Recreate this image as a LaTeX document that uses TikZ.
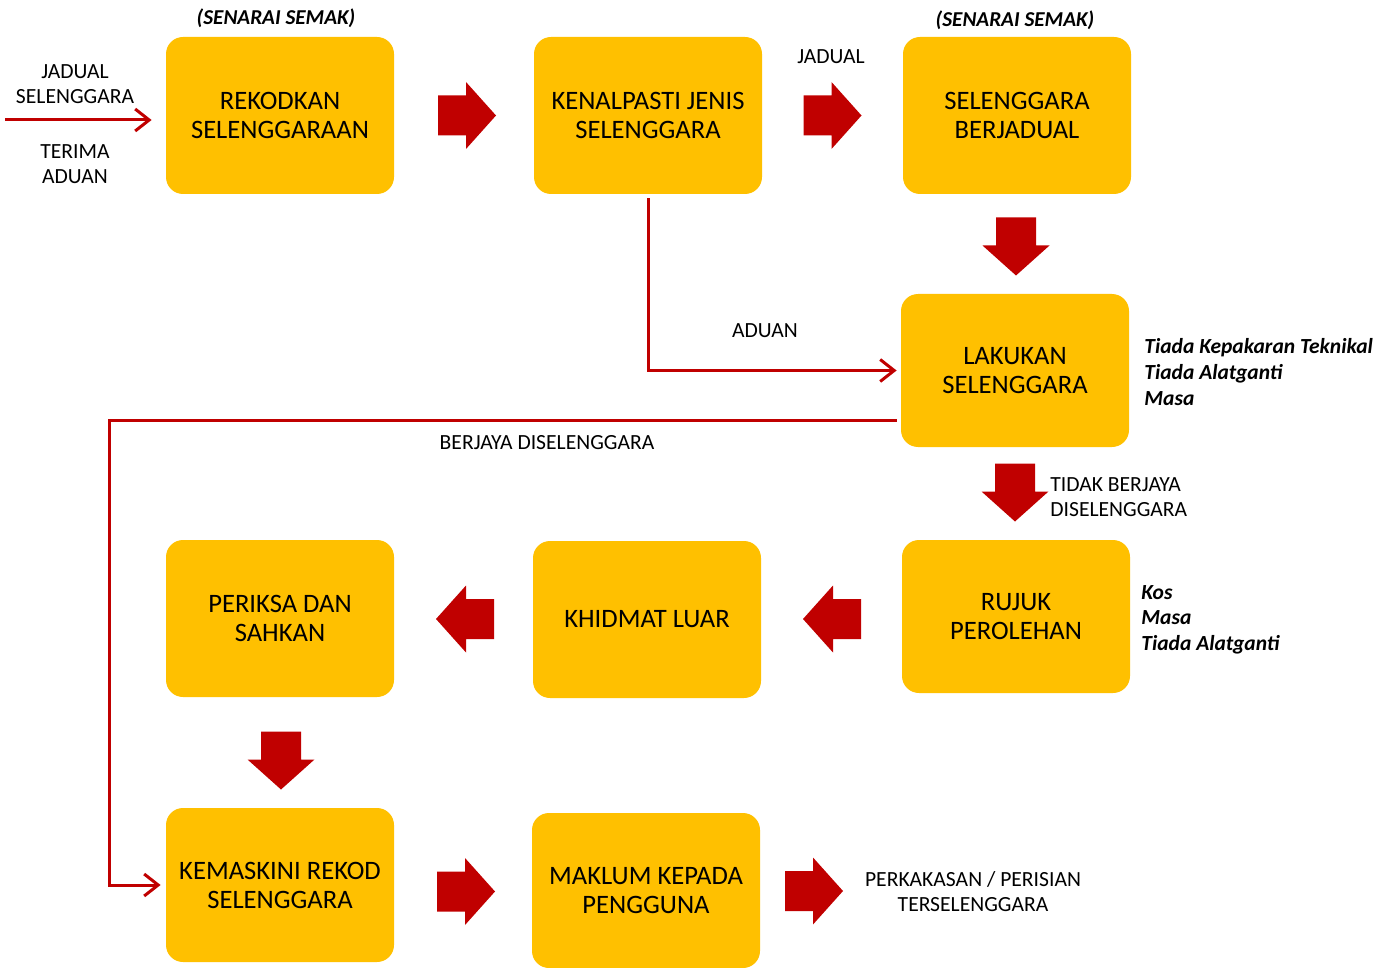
\documentclass[tikz,border=0pt]{standalone}
\usepackage{fontspec}
\setmainfont{Carlito}
\usetikzlibrary{arrows.meta}

\definecolor{boxgold}{HTML}{FFC000}
\definecolor{flowred}{HTML}{C00000}

\tikzset{
  stepbox/.style={fill=boxgold, rounded corners=8.5pt, minimum width=114pt,
    minimum height=78.5pt, align=center, inner sep=0pt,
    font=\fontsize{13.3}{14.5}\selectfont},
  note/.style={inner sep=0pt, align=center, font=\fontsize{10.8}{12.5}\selectfont},
  remark/.style={inner sep=0pt, align=left, font=\fontsize{10.75}{13}\selectfont\bfseries\itshape},
  link/.style={draw=flowred, line width=1.5pt, -{Straight Barb[length=7pt,width=11pt]}},
  bigarrow/.pic={\fill[flowred] (-29,-20) -- (-1,-20) -- (-1,-33.5) -- (29,0)
    -- (-1,33.5) -- (-1,20) -- (-29,20) -- cycle;}
}

\begin{document}
\begin{tikzpicture}[x=0.5pt, y=-0.5pt]
  \useasboundingbox (0,0) rectangle (1387,968);

  % process boxes
  \node[stepbox] (rekod) at (280,115.5) {REKODKAN\\SELENGGARAAN};
  \node[stepbox] (kenal) at (648,115.5) {KENALPASTI JENIS\\SELENGGARA};
  \node[stepbox] (jadual) at (1017,115.5) {SELENGGARA\\BERJADUAL};
  \node[stepbox, minimum height=76.5pt] (laku) at (1015,370.5) {LAKUKAN\\SELENGGARA};
  \node[stepbox, minimum height=76.5pt] (rujuk) at (1016,616.5) {RUJUK\\PEROLEHAN};
  \node[stepbox] (luar) at (647,619.5) {KHIDMAT LUAR};
  \node[stepbox] (periksa) at (280,618.5) {PERIKSA DAN\\SAHKAN};
  \node[stepbox, minimum height=77pt] (kemas) at (280,885) {KEMASKINI REKOD\\SELENGGARA};
  \node[stepbox, minimum height=77.5pt] (maklum) at (646,890.5) {MAKLUM KEPADA\\PENGGUNA};

  % headings and side notes
  \node[note, font=\fontsize{10.6}{12}\selectfont\bfseries\itshape] (semak1) at (276,18) {(SENARAI SEMAK)};
  \node[note, font=\fontsize{10.6}{12}\selectfont\bfseries\itshape] (semak2) at (1015,20) {(SENARAI SEMAK)};
  \node[note] (lblJadualSel) at (75,84) {JADUAL\\SELENGGARA};
  \node[note] (lblTerima) at (75,164) {TERIMA\\ADUAN};
  \node[note] (lblJadual) at (831,57) {JADUAL};
  \node[note] (lblAduan) at (765,331) {ADUAN};
  \node[note] (lblBerjaya) at (547,443) {BERJAYA DISELENGGARA};
  \node[note, align=left, anchor=west] (lblTidak) at (1050,497.5) {TIDAK BERJAYA\\DISELENGGARA};
  \node[note] (lblSiap) at (973,892) {PERKAKASAN / PERISIAN\\TERSELENGGARA};
  \node[remark, anchor=west] (sebab1) at (1144,372) {Tiada Kepakaran Teknikal\\Tiada Alatganti\\Masa};
  \node[remark, anchor=west, font=\fontsize{10.75}{12.75}\selectfont\bfseries\itshape] (sebab2) at (1141,619.5) {Kos\\Masa\\Tiada Alatganti};

  % block arrows
  \pic at (467,115.5) {bigarrow};
  \pic at (832.5,115.5) {bigarrow};
  \pic[rotate=-90] at (1016,246.5) {bigarrow};
  \pic[rotate=-90] at (1015,492.5) {bigarrow};
  \pic[rotate=180] at (832,619) {bigarrow};
  \pic[rotate=180] at (465,619) {bigarrow};
  \pic[rotate=-90] at (281,760.5) {bigarrow};
  \pic at (466,891.5) {bigarrow};
  \pic at (814,891) {bigarrow};

  % thin connectors
  \coordinate (masuk) at (5,120);
  \coordinate (belok) at (109,420);
  \draw[link, shorten >=7pt] (masuk) -- (masuk -| rekod.west);
  \draw[link, shorten <=2pt, shorten >=2pt] (kenal.south) |- (laku.west);
  \draw[link, shorten <=2pt, shorten >=2.5pt] (laku.west |- belok) -- (belok) |- (kemas.west);
\end{tikzpicture}
\end{document}
